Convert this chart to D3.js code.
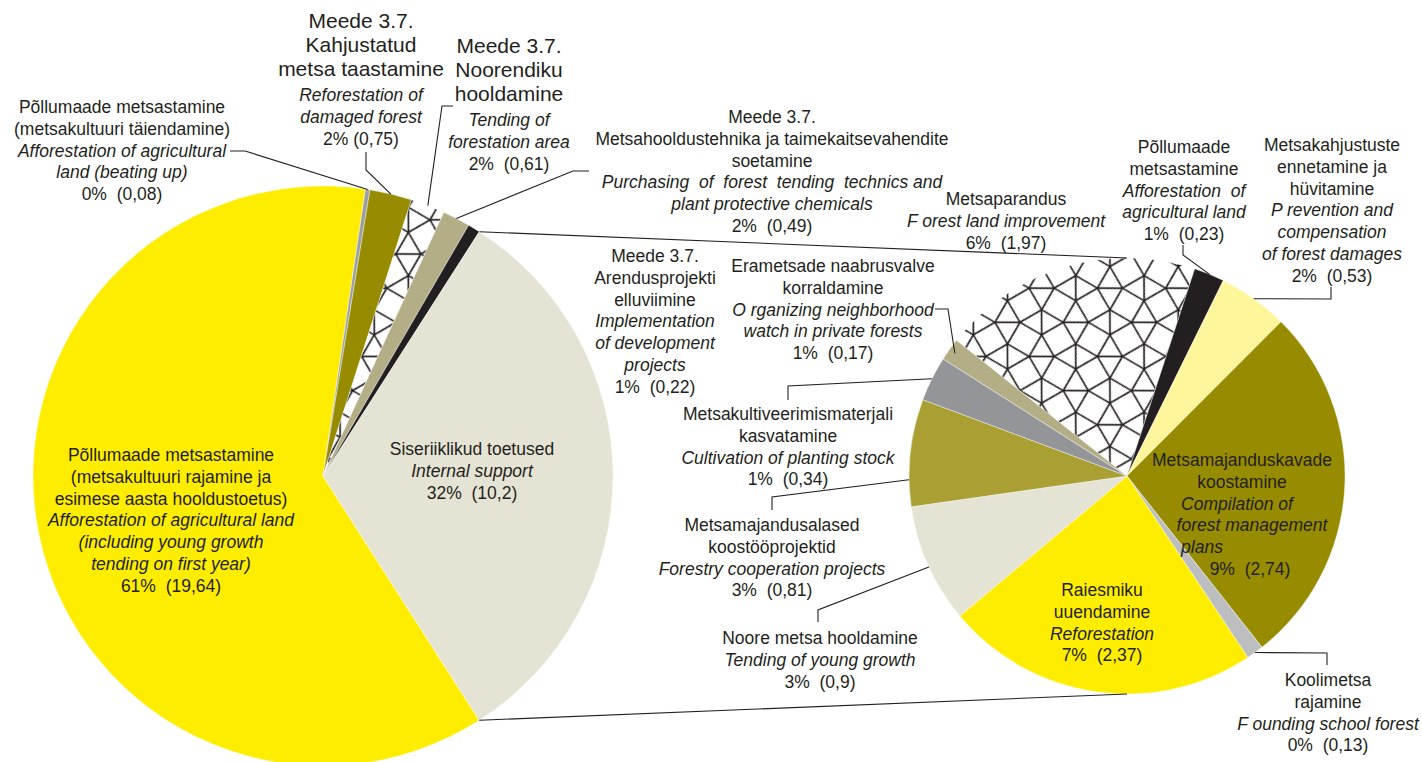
<!DOCTYPE html>
<html><head><meta charset="utf-8">
<script src="https://cdn.jsdelivr.net/npm/d3@7"></script>
<style>
body{margin:0;background:#fff}
text{font-family:"Liberation Sans",Arial,sans-serif;fill:#231F20;white-space:pre}
</style>
</head><body>
<svg id="chart" width="1422" height="762"></svg>
<script>
// ---------------- DATA ----------------
const leftCategories = ["afforestMain","afforestBeating","reforestDamaged","tendingForestation","purchasing","development","internal"];
const leftValues = [19.64, 0.08, 0.75, 0.61, 0.49, 0.22, 10.2];
const leftPercents = ["61%","0%","2%","2%","2%","1%","32%"];

const rightCategories = ["improvement","afforestAgri","damages","plans","school","reforestation","youngGrowth","cooperation","plantingStock","watch"];
const rightValues = [1.97, 0.23, 0.53, 2.74, 0.13, 2.37, 0.9, 0.81, 0.34, 0.17];
const rightPercents = ["6%","1%","2%","9%","0%","7%","3%","3%","1%","1%"];

// label text lines: [text, style]  n = normal, i = italic, b = big
const labelText = {
  afforestBeating: [["Põllumaade metsastamine","n"],["(metsakultuuri täiendamine)","n"],["Afforestation of agricultural","i"],["land (beating up)","i"],["0%  (0,08)","n"]],
  reforestDamaged: [["Meede 3.7.","b"],["Kahjustatud","b"],["metsa taastamine","b"],["Reforestation of","i"],["damaged forest","i"],["2% (0,75)","n"]],
  tendingForestation: [["Meede 3.7.","b"],["Noorendiku","b"],["hooldamine","b"],["Tending of","i"],["forestation area","i"],["2%  (0,61)","n"]],
  purchasing: [["Meede 3.7.","n"],["Metsahooldustehnika ja taimekaitsevahendite","n"],["soetamine","n"],["Purchasing  of  forest  tending  technics and","i"],["plant protective chemicals","i"],["2%  (0,49)","n"]],
  development: [["Meede 3.7.","n"],["Arendusprojekti","n"],["elluviimine","n"],["Implementation","i"],["of development","i"],["projects","i"],["1%  (0,22)","n"]],
  afforestMain: [["Põllumaade metsastamine","n"],["(metsakultuuri rajamine ja","n"],["esimese aasta hooldustoetus)","n"],["Afforestation of agricultural land","i"],["(including young growth","i"],["tending on first year)","i"],["61%  (19,64)","n"]],
  internal: [["Siseriiklikud toetused","n"],["Internal support","i"],["32%  (10,2)","n"]],
  improvement: [["Metsaparandus","n"],["F orest land improvement","i"],["6%  (1,97)","n"]],
  afforestAgri: [["Põllumaade","n"],["metsastamine","n"],["Afforestation  of","i"],["agricultural land","i"],["1%  (0,23)","n"]],
  damages: [["Metsakahjustuste","n"],["ennetamine ja","n"],["hüvitamine","n"],["P revention and","i"],["compensation","i"],["of forest damages","i"],["2%  (0,53)","n"]],
  plans: [["Metsamajanduskavade","n"],["koostamine","n"],["Compilation of","i"],["forest management","i"],["plans","i"],["9%  (2,74)","n"]],
  school: [["Koolimetsa","n"],["rajamine","n"],["F ounding school forest","i"],["0%  (0,13)","n"]],
  reforestation: [["Raiesmiku","n"],["uuendamine","n"],["Reforestation","i"],["7%  (2,37)","n"]],
  youngGrowth: [["Noore metsa hooldamine","n"],["Tending of young growth","i"],["3%  (0,9)","n"]],
  cooperation: [["Metsamajandusalased","n"],["koostööprojektid","n"],["Forestry cooperation projects","i"],["3%  (0,81)","n"]],
  plantingStock: [["Metsakultiveerimismaterjali","n"],["kasvatamine","n"],["Cultivation of planting stock","i"],["1%  (0,34)","n"]],
  watch: [["Erametsade naabrusvalve","n"],["korraldamine","n"],["O rganizing neighborhood","i"],["watch in private forests","i"],["1%  (0,17)","n"]]
};

// ---------------- STYLE / LAYOUT ----------------
const colors = {
  afforestMain:"#FFED00", afforestBeating:"#9D9FA2", reforestDamaged:"#978C00",
  tendingForestation:"url(#hatch)", purchasing:"#B3AE86", development:"#231F20", internal:"#E5E3D3",
  improvement:"url(#hatch)", afforestAgri:"#231F20", damages:"#FFF59A", plans:"#978C00",
  school:"#BCBEC0", reforestation:"#FFED00", youngGrowth:"#E5E3D3", cooperation:"#AA9F33",
  plantingStock:"#939598", watch:"#B3AE86"
};
const P1 = {cx:323, cy:476, r:290, start:147.4};
const P2 = {cx:1127, cy:476, r:218, start:308.5};

// label layout: x, first-line y (visual centre), optional leader elbow points
const labelLayout = {
  afforestBeating: {x:122, y:107, leader:[[230,151],[245,151]]},
  reforestDamaged: {x:361, y:20, leader:[[366,152],[366,170]]},
  tendingForestation: {x:509, y:45, leader:[[453,106],[442,106]]},
  purchasing: {x:772, y:117, leader:[[589,171],[573,171]]},
  development: {x:655, y:256},
  afforestMain: {x:171, y:455},
  internal: {x:472, y:449},
  improvement: {x:1006, y:199},
  afforestAgri: {x:1184, y:147, leader:[[1183,245],[1183,255]]},
  damages: {x:1332, y:145, leader:[[1331,287],[1331,299]]},
  plans: {x:1242, y:460, dx:[0,0,-5,10,-40,8]},
  school: {x:1328, y:680, leader:[[1327,665],[1327,653]]},
  reforestation: {x:1102, y:590},
  youngGrowth: {x:820, y:638, leader:[[818,622],[818,610]], t:0.48},
  cooperation: {x:772, y:525, leader:[[772,510],[772,497]], t:0.25},
  plantingStock: {x:788, y:414, leader:[[788,400],[788,386]]},
  watch: {x:833, y:266, leader:[[935,309],[948,309]], rf:0.97}
};

const FS = 17.5, FSB = 21, LH = 21.7, LHB = 24;

// ---------------- DRAW ----------------
const svg = d3.select("#chart");
const rad = d => d*Math.PI/180;

// hatch pattern : snub square tiling
(function(){
  const a = 25, L = a*(1+Math.sqrt(3))/Math.SQRT2, r = a/Math.SQRT2;
  const pat = svg.append("defs").append("pattern").attr("id","hatch")
    .attr("patternUnits","userSpaceOnUse").attr("width",L).attr("height",L)
    .attr("patternTransform","rotate(45)");
  pat.append("rect").attr("width",L).attr("height",L).attr("fill","#fff");
  const pts = [];
  for(let m=-1;m<=2;m++) for(let n=-1;n<=2;n++) for(let k=0;k<4;k++){
    const ang = rad(60+90*k);
    pts.push([m*L + r*Math.cos(ang), n*L + r*Math.sin(ang)]);
  }
  const edges = [];
  for(let i=0;i<pts.length;i++) for(let j=i+1;j<pts.length;j++){
    const d = Math.hypot(pts[i][0]-pts[j][0], pts[i][1]-pts[j][1]);
    if(Math.abs(d-a)<0.5) edges.push([pts[i],pts[j]]);
  }
  pat.selectAll("line").data(edges).join("line")
    .attr("x1",e=>e[0][0]).attr("y1",e=>e[0][1]).attr("x2",e=>e[1][0]).attr("y2",e=>e[1][1])
    .attr("stroke","#231F20").attr("stroke-width",1.7);
})();

function drawPie(P, cats, vals){
  const data = cats.map((c,i)=>({key:c, value:vals[i]}));
  const pie = d3.pie().sort(null).value(d=>d.value)
    .startAngle(rad(P.start)).endAngle(rad(P.start+360));
  const arcs = pie(data);
  const arc = d3.arc().innerRadius(0).outerRadius(P.r);
  const g = svg.append("g").attr("transform",`translate(${P.cx},${P.cy})`);
  g.selectAll("path").data(arcs).join("path")
    .attr("d",arc).attr("fill",d=>colors[d.data.key])
    .attr("stroke","#fff").attr("stroke-width",0.4);
  const map = {};
  arcs.forEach(a=>map[a.data.key]=a);
  return map;
}
const ptAt = (P, ang, rr) => [P.cx + rr*Math.sin(ang), P.cy - rr*Math.cos(ang)];

const leftArcs = drawPie(P1, leftCategories, leftValues);
const rightArcs = drawPie(P2, rightCategories, rightValues);

// connector lines between pies
const split = leftArcs.internal;
const conn = [
  [ptAt(P1, split.startAngle, P1.r), ptAt(P2, 0, P2.r)],
  [ptAt(P1, split.endAngle, P1.r), ptAt(P2, Math.PI, P2.r)]
];
svg.append("g").selectAll("line").data(conn).join("line")
  .attr("x1",d=>d[0][0]).attr("y1",d=>d[0][1]).attr("x2",d=>d[1][0]).attr("y2",d=>d[1][1])
  .attr("stroke","#231F20").attr("stroke-width",1.1);

// leaders
const leaderG = svg.append("g");
Object.keys(labelLayout).forEach(k=>{
  const lay = labelLayout[k];
  if(!lay.leader) return;
  const inLeft = leftArcs[k] !== undefined;
  const a = inLeft ? leftArcs[k] : rightArcs[k];
  const P = inLeft ? P1 : P2;
  const t = lay.t !== undefined ? lay.t : 0.5;
  const ang = a.startAngle + (a.endAngle-a.startAngle)*t;
  const end = ptAt(P, ang, P.r*(lay.rf||1));
  const pts = lay.leader.concat([end]);
  leaderG.append("path").attr("d", d3.line()(pts))
    .attr("fill","none").attr("stroke","#231F20").attr("stroke-width",1.1);
});

// labels
const labelG = svg.append("g");
Object.keys(labelText).forEach(k=>{
  const lay = labelLayout[k], lines = labelText[k];
  let y = lay.y, prev = null;
  lines.forEach((ln,i)=>{
    const big = ln[1]==="b";
    if(prev!==null){
      if(prev==="b" && big) y += LHB;
      else if(prev==="b" && !big) y += 27;
      else y += LH;
    }
    const fs = big ? FSB : FS;
    labelG.append("text")
      .attr("x", lay.x + (lay.dx ? lay.dx[i] : 0))
      .attr("y", y + fs*0.36)
      .attr("text-anchor","middle")
      .attr("font-size", fs)
      .attr("font-style", ln[1]==="i" ? "italic" : "normal")
      .text(ln[0]);
    prev = ln[1];
  });
});
</script>
</body></html>
